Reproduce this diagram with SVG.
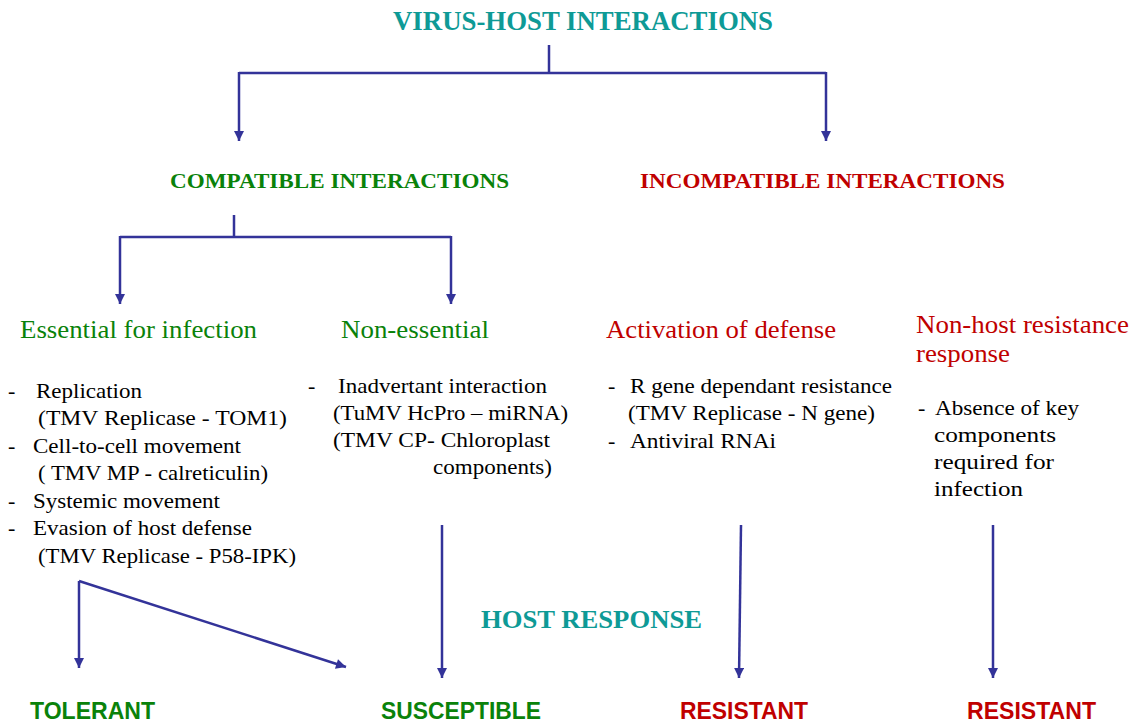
<svg xmlns="http://www.w3.org/2000/svg" width="1140" height="725" viewBox="0 0 1140 725">
<defs>
<marker id="ah" viewBox="0 0 10 10" refX="10" refY="5" markerWidth="12" markerHeight="10" markerUnits="userSpaceOnUse" orient="auto">
<path d="M0,0 L10,5 L0,10 Z" fill="#333399"/>
</marker>
</defs>
<style>
.hd{font-family:"Liberation Serif",serif;font-weight:bold}
.teal{fill:#0e9a96}
.grn{fill:#0a820a}
.red{fill:#c00000}
.sub{font-family:"Liberation Serif",serif;font-size:25px}
.body{font-family:"Liberation Serif",serif;font-size:22px;fill:#000}
.out{font-family:"Liberation Sans",Arial,sans-serif;font-weight:bold;font-size:23px}
.ln{stroke:#333399;fill:none;stroke-width:2.5}
.ar{stroke:#333399;fill:none;stroke-width:2.5;marker-end:url(#ah)}
</style>
<rect width="1140" height="725" fill="#fff"/>
<g id="connectors">
<line class="ln" x1="549" y1="45" x2="549" y2="73"/>
<line class="ln" x1="239" y1="73" x2="826" y2="73" stroke-width="4"/>
<line class="ar" x1="239" y1="72" x2="239" y2="141"/>
<line class="ar" x1="826" y1="72" x2="826" y2="141"/>
<line class="ln" x1="234" y1="215" x2="234" y2="237"/>
<line class="ln" x1="120" y1="237" x2="451" y2="237"/>
<line class="ar" x1="120" y1="236" x2="120" y2="304"/>
<line class="ar" x1="451" y1="236" x2="451" y2="304"/>
<line class="ar" x1="79" y1="581" x2="79" y2="668"/>
<line class="ar" x1="79" y1="581" x2="346" y2="667" stroke-width="3.5"/>
<line class="ar" x1="442" y1="525" x2="442" y2="678"/>
<line class="ar" x1="741" y1="525" x2="739" y2="678"/>
<line class="ar" x1="993" y1="525" x2="993" y2="678"/>
</g>
<g id="title"><text class="hd teal" x="393" y="30" font-size="28" textLength="380" lengthAdjust="spacingAndGlyphs">VIRUS-HOST INTERACTIONS</text></g>
<g id="compatible"><text class="hd grn" x="170" y="188" font-size="22" textLength="339" lengthAdjust="spacingAndGlyphs">COMPATIBLE INTERACTIONS</text></g>
<g id="incompatible"><text class="hd red" x="640" y="188" font-size="22" textLength="365" lengthAdjust="spacingAndGlyphs">INCOMPATIBLE INTERACTIONS</text></g>
<g id="essential">
<text class="sub grn" x="20" y="338" textLength="237" lengthAdjust="spacingAndGlyphs">Essential for infection</text>
<text class="body" x="8" y="398">-</text><text class="body" x="36" y="398" textLength="106" lengthAdjust="spacingAndGlyphs">Replication</text>
<text class="body" x="38" y="425" textLength="249" lengthAdjust="spacingAndGlyphs">(TMV Replicase  - TOM1)</text>
<text class="body" x="8" y="453">-</text><text class="body" x="33" y="453" textLength="208" lengthAdjust="spacingAndGlyphs">Cell-to-cell movement</text>
<text class="body" x="38" y="480" textLength="230" lengthAdjust="spacingAndGlyphs">( TMV MP - calreticulin)</text>
<text class="body" x="8" y="508">-</text><text class="body" x="33" y="508" textLength="187" lengthAdjust="spacingAndGlyphs">Systemic movement</text>
<text class="body" x="8" y="535">-</text><text class="body" x="33" y="535" textLength="219" lengthAdjust="spacingAndGlyphs">Evasion of host defense</text>
<text class="body" x="38" y="563" textLength="258" lengthAdjust="spacingAndGlyphs">(TMV Replicase - P58-IPK)</text>
</g>
<g id="nonessential">
<text class="sub grn" x="341" y="338" textLength="148" lengthAdjust="spacingAndGlyphs">Non-essential</text>
<text class="body" x="308" y="393">-</text><text class="body" x="338" y="393" textLength="209" lengthAdjust="spacingAndGlyphs">Inadvertant interaction</text>
<text class="body" x="333" y="420" textLength="235" lengthAdjust="spacingAndGlyphs">(TuMV HcPro – miRNA)</text>
<text class="body" x="333" y="447" textLength="217" lengthAdjust="spacingAndGlyphs">(TMV CP- Chloroplast</text>
<text class="body" x="433" y="474" textLength="119" lengthAdjust="spacingAndGlyphs">components)</text>
</g>
<g id="activation">
<text class="sub red" x="606" y="338" textLength="230" lengthAdjust="spacingAndGlyphs">Activation of defense</text>
<text class="body" x="608" y="393">-</text><text class="body" x="630" y="393" textLength="262" lengthAdjust="spacingAndGlyphs">R gene dependant resistance</text>
<text class="body" x="628" y="420" textLength="247" lengthAdjust="spacingAndGlyphs">(TMV Replicase - N gene)</text>
<text class="body" x="608" y="448">-</text><text class="body" x="630" y="448" textLength="146" lengthAdjust="spacingAndGlyphs">Antiviral RNAi</text>
</g>
<g id="nonhost">
<text class="sub red" x="916" y="333" textLength="213" lengthAdjust="spacingAndGlyphs">Non-host resistance</text>
<text class="sub red" x="916" y="362" textLength="94" lengthAdjust="spacingAndGlyphs">response</text>
<text class="body" x="918" y="415">-</text><text class="body" x="935" y="415" textLength="144" lengthAdjust="spacingAndGlyphs">Absence of key</text>
<text class="body" x="934" y="442" textLength="122" lengthAdjust="spacingAndGlyphs">components</text>
<text class="body" x="934" y="469" textLength="120" lengthAdjust="spacingAndGlyphs">required for</text>
<text class="body" x="934" y="496" textLength="89" lengthAdjust="spacingAndGlyphs">infection</text>
</g>
<g id="host-response"><text class="hd teal" x="481" y="628" font-size="25" textLength="221" lengthAdjust="spacingAndGlyphs">HOST RESPONSE</text></g>
<g id="tolerant"><text class="out grn" x="30" y="719" textLength="125" lengthAdjust="spacingAndGlyphs">TOLERANT</text></g>
<g id="susceptible"><text class="out grn" x="381" y="719" textLength="160" lengthAdjust="spacingAndGlyphs">SUSCEPTIBLE</text></g>
<g id="resistant1"><text class="out red" x="680" y="719" textLength="128" lengthAdjust="spacingAndGlyphs">RESISTANT</text></g>
<g id="resistant2"><text class="out red" x="967" y="719" textLength="129" lengthAdjust="spacingAndGlyphs">RESISTANT</text></g>
</svg>
